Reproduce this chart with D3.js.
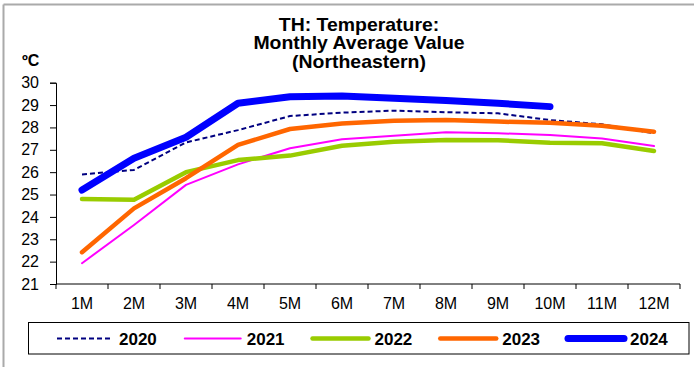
<!DOCTYPE html>
<html><head><meta charset="utf-8">
<script src="https://cdn.jsdelivr.net/npm/d3@7"></script>
<style>
body{margin:0;background:#fff;}
svg{display:block;font-family:"Liberation Sans",Arial,sans-serif;}
</style></head>
<body><svg id="c" width="694" height="367"></svg>
<script>
const months = ["1M","2M","3M","4M","5M","6M","7M","8M","9M","10M","11M","12M"];
const yTicks = [21,22,23,24,25,26,27,28,29,30];
const titleLines = ["TH: Temperature:","Monthly Average Value","(Northeastern)"];
const yUnit = "ºC";
const seriesNames = ["2020","2021","2022","2023","2024"];
const v2020 = [25.9,26.1,27.33,27.88,28.51,28.66,28.75,28.68,28.63,28.33,28.14,27.74];
const v2021 = [21.93,23.64,25.43,26.35,27.07,27.47,27.63,27.78,27.74,27.66,27.51,27.17];
const v2022 = [24.8,24.77,26.0,26.54,26.74,27.18,27.36,27.44,27.43,27.32,27.29,26.95];
const v2023 = [22.42,24.38,25.73,27.22,27.93,28.18,28.30,28.33,28.26,28.21,28.08,27.81];
const v2024 = [25.2,26.62,27.56,29.08,29.37,29.4,29.3,29.2,29.08,28.93];

const styles = [
  {color:"#000080", width:2, dash:"5,3", cap:"butt"},
  {color:"#FF00FF", width:2, dash:null, cap:"round"},
  {color:"#99CC00", width:4.5, dash:null, cap:"round"},
  {color:"#FF6600", width:4.5, dash:null, cap:"round"},
  {color:"#0000FF", width:7, dash:null, cap:"round"}
];
const allValues = [v2020,v2021,v2022,v2023,v2024];

const svg = d3.select("#c");
// frame
svg.append("line").attr("x1",3.5).attr("x2",694).attr("y1",4.5).attr("y2",4.5).attr("stroke","#aaa").attr("stroke-width",2);
svg.append("line").attr("x1",3.5).attr("x2",3.5).attr("y1",4.5).attr("y2",367).attr("stroke","#aaa").attr("stroke-width",2);

const x = d3.scaleBand().domain(months).range([56,680]);
const y = d3.scaleLinear().domain([21,30]).range([284,82.7]);

// title
const t = svg.append("text").attr("text-anchor","middle").attr("font-weight","bold").attr("font-size",18)
  .attr("transform","translate(359,0) scale(1.08,1)");
titleLines.forEach((s,i)=>t.append("tspan").attr("x",0).attr("y",31+i*18.5).text(s));

svg.append("text").attr("x",22).attr("y",65.5).attr("font-weight","bold").attr("font-size",16).text(yUnit);

// y axis
const ya = svg.append("g").attr("transform","translate(56,0)")
  .call(d3.axisLeft(y).tickValues(yTicks).tickSize(6).tickPadding(11).tickFormat(d3.format("d")));
ya.select(".domain").attr("stroke","#000");
ya.selectAll("text").attr("font-size",16).attr("fill","#000").attr("font-family","Liberation Sans, Arial, sans-serif");

// x axis with ticks at band boundaries
const xa = svg.append("g").attr("transform","translate(0,284)");
xa.append("line").attr("x1",56).attr("x2",680).attr("stroke","#000");
const bounds = months.map(m=>x(m)).concat([x(months[months.length-1])+x.bandwidth()]);
xa.selectAll("line.tk").data(bounds).join("line").attr("class","tk")
  .attr("x1",d=>d).attr("x2",d=>d).attr("y1",0).attr("y2",5).attr("stroke","#000");
xa.selectAll("text").data(months).join("text")
  .attr("x",d=>x(d)+x.bandwidth()/2).attr("y",25.3).attr("text-anchor","middle").attr("font-size",16).text(d=>d);

// lines
const line = d3.line().x((d,i)=>x(months[i])+x.bandwidth()/2).y(d=>y(d));
allValues.forEach((vals,k)=>{
  const s = styles[k];
  svg.append("path").datum(vals).attr("d",line).attr("fill","none")
    .attr("stroke",s.color).attr("stroke-width",s.width)
    .attr("stroke-linecap",s.cap).attr("stroke-linejoin","round")
    .attr("stroke-dasharray",s.dash);
});

// legend
svg.append("rect").attr("x",28.5).attr("y",322.5).attr("width",660.5).attr("height",31.5)
  .attr("fill","none").attr("stroke","#000").attr("stroke-width",1);
const lx = d3.scalePoint().domain(seriesNames).range([57,568]);
seriesNames.forEach((n,k)=>{
  const s = styles[k];
  const x0 = lx(n);
  svg.append("line").attr("x1",x0).attr("x2",x0+56).attr("y1",338.5).attr("y2",338.5)
    .attr("stroke",s.color).attr("stroke-width",s.width).attr("stroke-linecap",s.cap)
    .attr("stroke-dasharray",s.dash);
  svg.append("text").attr("x",x0+62).attr("y",344.5).attr("font-weight","bold").attr("font-size",17).text(n);
});
</script></body></html>
